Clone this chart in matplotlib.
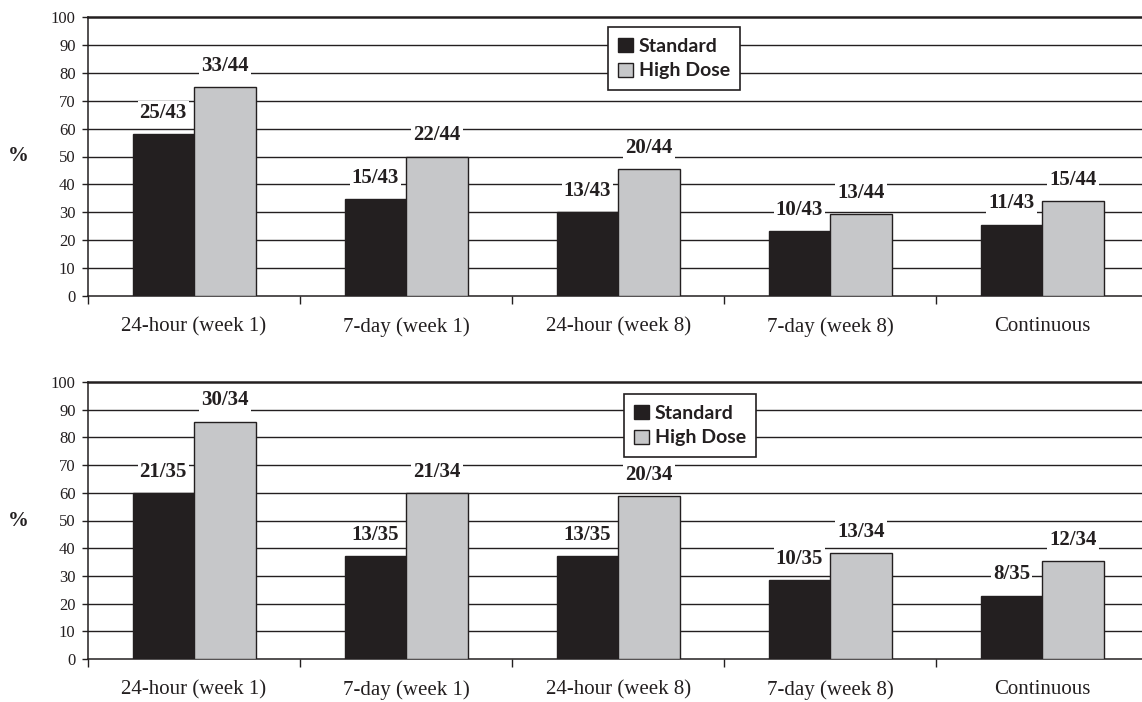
import matplotlib
matplotlib.use("Agg")
import matplotlib.pyplot as plt
import numpy as np
from matplotlib.patches import Patch

# ---------------- data ----------------
categories = ["24-hour (week 1)", "7-day (week 1)", "24-hour (week 8)",
              "7-day (week 8)", "Continuous"]
series_names = ["Standard", "High Dose"]

top_standard = [58.1, 34.9, 30.2, 23.3, 25.6]
top_high = [75.0, 50.0, 45.5, 29.5, 34.1]
top_standard_labels = ["25/43", "15/43", "13/43", "10/43", "11/43"]
top_high_labels = ["33/44", "22/44", "20/44", "13/44", "15/44"]

bot_standard = [60.0, 37.1, 37.1, 28.6, 22.9]
bot_high = [85.7, 60.0, 58.8, 38.2, 35.3]
bot_standard_labels = ["21/35", "13/35", "13/35", "10/35", "8/35"]
bot_high_labels = ["30/34", "21/34", "20/34", "13/34", "12/34"]

y_ticks = list(range(0, 101, 10))

# ---------------- style ----------------
INK = "#231f20"
DARK = "#231f20"
LIGHT = "#c6c7c9"
SERIF = ["Liberation Serif", "DejaVu Serif"]
SANS = ["Lato", "DejaVu Sans"]

W, H = 1142, 702
fig = plt.figure(figsize=(W / 100, H / 100), dpi=100)

panels = [
    dict(rect=(88 / W, 1 - 296 / H, 1 - 88 / W, (296 - 17) / H),
         std=top_standard, high=top_high,
         std_lab=top_standard_labels, high_lab=top_high_labels,
         leg=(674 / W, 1 - 27 / H), pct_y=1 - 156 / H),
    dict(rect=(88 / W, 1 - 659 / H, 1 - 88 / W, (659 - 382) / H),
         std=bot_standard, high=bot_high,
         std_lab=bot_standard_labels, high_lab=bot_high_labels,
         leg=(690 / W, 1 - 394 / H), pct_y=1 - 521 / H),
]

bar_w = 0.29
x = np.arange(len(categories))

for p in panels:
    ax = fig.add_axes(p["rect"])
    ax.set_xlim(-0.5, 4.47)
    ax.set_ylim(0, 100)

    # grid lines
    for v in y_ticks[1:-1]:
        ax.axhline(v, color=INK, lw=1.0, zorder=1)

    b1 = ax.bar(x - bar_w / 2, p["std"], width=bar_w, color=DARK,
                edgecolor=INK, linewidth=1.0, zorder=3)
    b2 = ax.bar(x + bar_w / 2, p["high"], width=bar_w, color=LIGHT,
                edgecolor=INK, linewidth=1.0, zorder=3)

    for bars, labels in ((b1, p["std_lab"]), (b2, p["high_lab"])):
        for rect, lab in zip(bars, labels):
            ax.annotate(lab, (rect.get_x() + rect.get_width() / 2, rect.get_height()),
                        xytext=(0, 8), textcoords="offset points",
                        ha="center", va="bottom", fontsize=15, fontweight="bold",
                        family=SERIF, color=INK, zorder=4,
                        bbox=dict(facecolor="white", edgecolor="none", pad=1.5))

    ax.spines["right"].set_visible(False)
    ax.spines["top"].set_linewidth(1.8)
    ax.spines["top"].set_color(INK)
    ax.spines["left"].set_linewidth(1.1)
    ax.spines["left"].set_color(INK)
    ax.spines["bottom"].set_linewidth(1.1)
    ax.spines["bottom"].set_color(INK)

    ax.set_yticks(y_ticks)
    ax.set_yticklabels([str(v) for v in y_ticks], family=SERIF, fontsize=12, color=INK)
    ax.tick_params(axis="y", direction="out", length=4, width=1.0, pad=5, color=INK)

    ax.set_xticks(np.arange(-0.5, 4.0, 1.0))
    ax.set_xticklabels([])
    ax.tick_params(axis="x", which="major", direction="out", length=6, width=1.0, color=INK)
    ax.set_xticks(x, minor=True)
    ax.set_xticklabels(categories, minor=True, family=SERIF, fontsize=15, color=INK)
    ax.tick_params(axis="x", which="minor", length=0, pad=15)

    handles = [Patch(facecolor=DARK, edgecolor=INK, lw=1.0),
               Patch(facecolor=LIGHT, edgecolor=INK, lw=1.0)]
    leg = fig.legend(handles, series_names, loc="upper center",
                     bbox_to_anchor=p["leg"], bbox_transform=fig.transFigure,
                     prop=dict(family=SANS, weight="bold", size=14),
                     frameon=True, fancybox=False, framealpha=1,
                     edgecolor=INK, handlelength=0.75, handleheight=0.75,
                     handletextpad=0.3, borderpad=0.55, labelspacing=0.4,
                     borderaxespad=0)
    leg.get_frame().set_linewidth(1.2)
    for t in leg.get_texts():
        t.set_color(INK)

    fig.text(18 / W, p["pct_y"], "%", ha="center", va="center", family=SERIF,
             fontsize=15, fontweight="bold", color=INK)

fig.savefig("out.png", dpi=100, facecolor="white")
